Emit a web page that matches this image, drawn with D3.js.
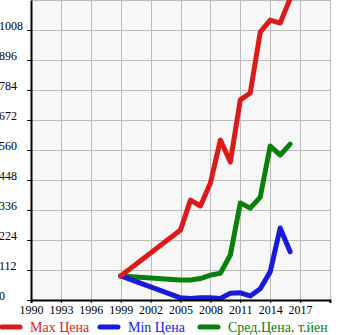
<!DOCTYPE html>
<html>
<head>
<meta charset="utf-8">
<script src="https://cdn.jsdelivr.net/npm/d3@7"></script>
<style>
  html, body { margin: 0; padding: 0; background: #fff; }
  svg { display: block; }
  text { font-family: "Liberation Serif", "Times New Roman", serif; }
</style>
</head>
<body>
<svg id="chart" width="345" height="335"></svg>
<script>
// Price history by model year (thousand yen)
const years = [1999, 2005, 2006, 2007, 2008, 2009, 2010, 2011, 2012, 2013, 2014, 2015, 2016];
const maxPrice = [90, 261, 373, 351, 437, 597, 515, 747, 773, 1000, 1045, 1034, 1125];
const minPrice = [90, 8, 6, 8, 8, 6, 25, 27, 15, 42, 105, 269, 180];
const avgPrice = [90, 75, 75, 80, 93, 100, 168, 362, 343, 384, 575, 541, 582];

const xTicks = [1990, 1993, 1996, 1999, 2002, 2005, 2008, 2011, 2014, 2017];
const yTicks = [0, 112, 224, 336, 448, 560, 672, 784, 896, 1008];

const seriesNames = ["Max Цена", "Min Цена", "Сред.Цена, т.йен"];
const seriesColors = ["#dd1a1a", "#1a1add", "#0a800a"];
const seriesValues = [maxPrice, minPrice, avgPrice];

const svg = d3.select("#chart");
const plotLeft = 31, plotRight = 330, plotTop = 0, plotBottom = 300;

const x = d3.scaleLinear().domain([1990, 2020]).range([plotLeft, plotRight]);
const y = d3.scaleLinear().domain([0, 1120]).range([plotBottom, plotTop]);

// plot background
svg.append("rect")
  .attr("x", plotLeft).attr("y", plotTop)
  .attr("width", plotRight - plotLeft).attr("height", plotBottom - plotTop)
  .attr("fill", "#f7f7f7");

// grid
const grid = svg.append("g").attr("stroke", "#bbbbbb").attr("stroke-width", 1);
[...xTicks, 2020].forEach(t => {
  grid.append("line")
    .attr("x1", Math.round(x(t)) + 0.5).attr("x2", Math.round(x(t)) + 0.5)
    .attr("y1", plotTop).attr("y2", plotBottom);
});
[...yTicks, 1120].forEach(t => {
  grid.append("line")
    .attr("x1", plotLeft).attr("x2", plotRight)
    .attr("y1", Math.round(y(t)) + 0.5).attr("y2", Math.round(y(t)) + 0.5);
});

// series lines, clipped to the plot area
svg.append("clipPath").attr("id", "plotClip")
  .append("rect").attr("x", plotLeft).attr("y", plotTop)
  .attr("width", plotRight - plotLeft).attr("height", plotBottom - plotTop);

const line = d3.line().x(d => x(d[0])).y(d => y(d[1]));
const lines = svg.append("g").attr("clip-path", "url(#plotClip)");
[2, 1, 0].forEach(i => {
  lines.append("path")
    .datum(years.map((yr, j) => [yr, seriesValues[i][j]]))
    .attr("d", line)
    .attr("fill", "none")
    .attr("stroke", seriesColors[i])
    .attr("stroke-width", 5)
    .attr("stroke-linejoin", "round")
    .attr("stroke-linecap", "round");
});

// y axis: labels sit left-aligned at the page edge, baseline on the tick
const yAxis = svg.append("g")
  .attr("transform", `translate(${plotLeft},0)`)
  .call(d3.axisLeft(y).tickValues(yTicks).tickSize(4).tickSizeOuter(0).tickFormat(d3.format("d")));
yAxis.select(".domain").attr("stroke", "#000").attr("stroke-width", 2);
yAxis.selectAll(".tick line").attr("stroke", "#000");
yAxis.selectAll(".tick text")
  .attr("font-family", "Liberation Serif, serif")
  .attr("font-size", 12).attr("fill", "#000")
  .attr("text-anchor", "start")
  .attr("x", -plotLeft - 1).attr("dy", "-1px");

// x axis
const xAxis = svg.append("g")
  .attr("transform", `translate(0,${plotBottom})`)
  .call(d3.axisBottom(x).tickValues(xTicks).tickSize(3).tickSizeOuter(3).tickFormat(d3.format("d")));
xAxis.select(".domain").attr("stroke", "#000").attr("stroke-width", 2);
xAxis.selectAll(".tick line").attr("stroke", "#000");
xAxis.selectAll(".tick text")
  .attr("font-family", "Liberation Serif, serif")
  .attr("font-size", 12).attr("fill", "#000")
  .attr("y", 5);

// legend
const legendX = [0, 98, 198];
seriesNames.forEach((name, i) => {
  const g = svg.append("g").attr("transform", `translate(${legendX[i]},327)`);
  g.append("line")
    .attr("x1", 2).attr("x2", 20).attr("y1", 0).attr("y2", 0)
    .attr("stroke", seriesColors[i]).attr("stroke-width", 5)
    .attr("stroke-linecap", "round");
  g.append("text")
    .attr("x", 30).attr("y", 5)
    .attr("font-family", "Liberation Serif, serif")
    .attr("font-size", 14)
    .attr("fill", seriesColors[i])
    .text(name);
});
</script>
</body>
</html>
